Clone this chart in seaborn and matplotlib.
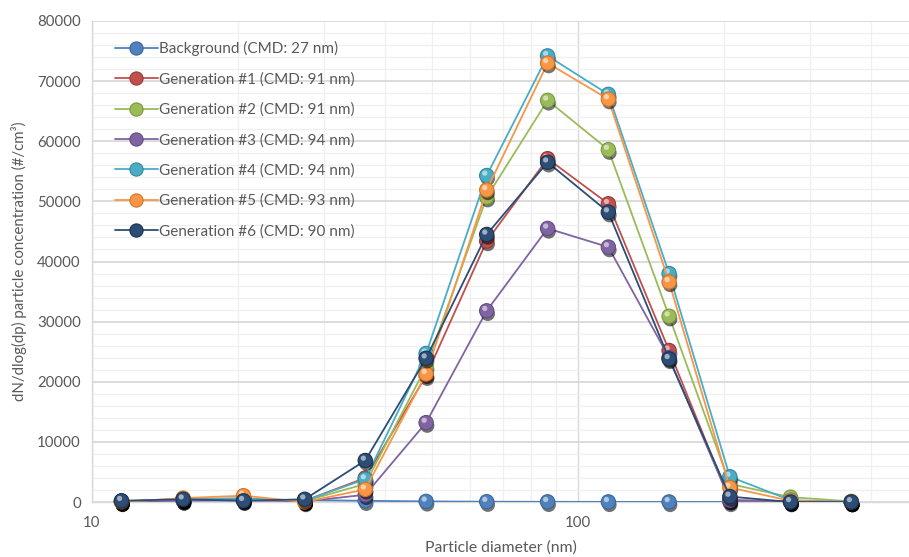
import matplotlib
matplotlib.use("Agg")
import matplotlib.pyplot as plt
import matplotlib.patheffects as pe
from matplotlib.lines import Line2D
from matplotlib.ticker import LogLocator, FixedFormatter, FixedLocator, MultipleLocator, NullFormatter
import seaborn as sns
import pandas as pd

# ---------------- data ----------------
diameters = [11.5, 15.4, 20.5, 27.4, 36.5, 48.7, 64.9, 86.6, 115.5, 154.0, 205.4, 273.8, 365.2]
series_names = [
    "Background (CMD: 27 nm)",
    "Generation #1 (CMD: 91 nm)",
    "Generation #2 (CMD: 91 nm)",
    "Generation #3 (CMD: 94 nm)",
    "Generation #4 (CMD: 94 nm)",
    "Generation #5 (CMD: 93 nm)",
    "Generation #6 (CMD: 90 nm)",
]
background = [150, 250, 300, 320, 200, 100, 50, 30, 20, 10, 5, 0, 0]
gen1 = [100, 400, 500, 200, 4000, 21000, 43400, 57100, 49600, 25200, 300, 100, 0]
gen2 = [100, 450, 600, 150, 3000, 22500, 50700, 66800, 58600, 30900, 3000, 800, 100]
gen3 = [50, 250, 300, 100, 1200, 13200, 31800, 45500, 42400, 24000, 300, 100, 0]
gen4 = [150, 500, 600, 200, 3800, 24700, 54300, 74200, 67800, 38000, 4200, 300, 0]
gen5 = [0, 650, 1050, 0, 2100, 21300, 51900, 73000, 67000, 36600, 2400, 200, 0]
gen6 = [200, 450, 200, 450, 6900, 23900, 44500, 56500, 48200, 23800, 900, 0, 0]
all_values = [background, gen1, gen2, gen3, gen4, gen5, gen6]

colors = ["#4F81BD", "#C0504D", "#9BBB59", "#8064A2", "#4BACC6", "#F79646", "#2C4D75"]
edge_colors = ["#3A6699", "#9A3936", "#7A9840", "#634C85", "#33889F", "#D07524", "#1B324F"]

x_ticks = [10, 100]
x_tick_labels = ["10", "100"]
y_ticks = [0, 10000, 20000, 30000, 40000, 50000, 60000, 70000, 80000]

# ---------------- style ----------------
sns.set_theme(style="white")
plt.rcParams["font.family"] = ["Lato", "DejaVu Sans"]
text_color = "#595959"

fig = plt.figure(figsize=(9.09, 5.57), dpi=100)
ax = fig.add_axes([92 / 909, 1 - 502 / 557, 817 / 909, 481 / 557])

df = pd.DataFrame({
    "dp": diameters * len(series_names),
    "value": [v for vals in all_values for v in vals],
    "series": [n for n in series_names for _ in diameters],
})

shadow = [pe.SimplePatchShadow(offset=(0.8, -2.2), shadow_rgbFace="black", alpha=0.55), pe.Normal()]
highlight = [pe.SimplePatchShadow(offset=(-1.4, 1.7), shadow_rgbFace="white", alpha=0.55)]

for i, name in enumerate(series_names):
    sub = df[df["series"] == name]
    sns.lineplot(data=sub, x="dp", y="value", color=colors[i], linewidth=1.3,
                 ax=ax, sort=False, zorder=3 + i * 0.1, legend=False)
    sns.lineplot(data=sub, x="dp", y="value", color=colors[i], linestyle="",
                 marker="o", markersize=10.3, markeredgecolor=edge_colors[i],
                 markeredgewidth=0.8, ax=ax, sort=False, zorder=3 + i * 0.1 + 0.05,
                 legend=False, clip_on=False, path_effects=shadow)
    sns.lineplot(data=sub, x="dp", y="value", color="white", linestyle="",
                 marker="o", markersize=3.8, markeredgewidth=0, ax=ax, sort=False,
                 zorder=3 + i * 0.1 + 0.06, legend=False, clip_on=False,
                 path_effects=highlight)

ax.set_xscale("log")
ax.set_xlim(10, 480)
ax.set_ylim(0, 80000)

ax.xaxis.set_major_locator(FixedLocator(x_ticks))
ax.xaxis.set_major_formatter(FixedFormatter(x_tick_labels))
ax.xaxis.set_minor_locator(LogLocator(base=10, subs=[2, 3, 4, 5, 6, 7, 8, 9]))
ax.xaxis.set_minor_formatter(NullFormatter())
ax.yaxis.set_major_locator(FixedLocator(y_ticks))
ax.yaxis.set_major_formatter(FixedFormatter([str(v) for v in y_ticks]))
ax.yaxis.set_minor_locator(MultipleLocator(2000))

ax.grid(True, which="major", axis="y", color="#D9D9D9", linewidth=1.3, zorder=1)
ax.grid(True, which="minor", axis="y", color="#F0F0F0", linewidth=1.0, zorder=0.9)
ax.grid(True, which="major", axis="x", color="#D9D9D9", linewidth=1.0, zorder=1)
ax.grid(True, which="minor", axis="x", color="#F0F0F0", linewidth=1.0, zorder=0.9)
ax.set_axisbelow(True)

for s in ["top", "right"]:
    ax.spines[s].set_visible(False)
for s in ["left", "bottom"]:
    ax.spines[s].set_color("#D9D9D9")
    ax.spines[s].set_linewidth(1.0)

ax.tick_params(axis="both", which="both", length=0)
ax.tick_params(axis="x", pad=10, labelsize=10.8, labelcolor=text_color)
ax.tick_params(axis="y", pad=8, labelsize=10.8, labelcolor=text_color)

ax.set_xlabel("Particle diameter (nm)", fontsize=11.3, color=text_color)
ax.set_ylabel("dN/dlog(dp) particle concentration (#/cm³)", fontsize=10.8, color=text_color)
ax.xaxis.set_label_coords(0.5, -0.079)
ax.xaxis.label.set_va("top")
ax.yaxis.set_label_coords(-0.079, 0.5)

handles = [
    Line2D([0], [0], color=colors[i], linewidth=1.3, marker="o", markersize=9.5,
           markerfacecolor=colors[i], markeredgecolor=edge_colors[i], markeredgewidth=0.8)
    for i in range(len(series_names))
]
leg = ax.legend(handles, series_names, loc="upper left", bbox_to_anchor=(0.028, 0.958),
                frameon=False, fontsize=11, handlelength=2.8, handletextpad=0.12,
                labelspacing=1.05, borderpad=0, borderaxespad=0)
for t in leg.get_texts():
    t.set_color(text_color)

fig.savefig("out.png", dpi=100)
